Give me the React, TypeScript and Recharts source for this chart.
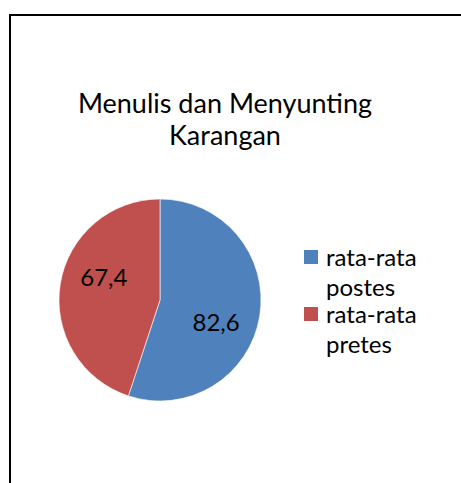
import { PieChart, Pie, Cell, Legend } from 'recharts';

const TITLE_LINES = ['Menulis dan Menyunting', 'Karangan'];
const CATEGORIES = ['rata-rata postes', 'rata-rata pretes'];
const VALUES = [82.6, 67.4];
const VALUE_LABELS = ['82,6', '67,4'];
const COLORS = ['#4F81BD', '#C0504D'];

const FONT = 'Lato, Carlito, Calibri, sans-serif';
const RAD = Math.PI / 180;

const data = CATEGORIES.map((name, i) => ({ name, value: VALUES[i], label: VALUE_LABELS[i] }));

// Excel "best fit" puts the labels a bit clockwise of the slice middle
const renderLabel = (props: any) => {
  const { cx, cy, midAngle, outerRadius, index } = props;
  const r = outerRadius * 0.6;
  const a = (midAngle - 13) * RAD;
  const x = cx + r * Math.cos(a);
  const y = cy - r * Math.sin(a);
  return (
    <text x={x} y={y + 8.6} textAnchor="middle" fill="#000" fontSize={24} fontFamily={FONT}>
      {data[index].label}
    </text>
  );
};

const renderLegend = (props: any) => {
  const { payload } = props;
  return (
    <div style={{ fontFamily: FONT, fontSize: 24, color: '#000' }}>
      {payload.map((entry: any, i: number) => {
        const words = String(entry.value).split(' ');
        return (
          <div key={i} style={{ position: 'relative', paddingLeft: 22, lineHeight: '30px', marginBottom: i === 0 ? -3 : 0 }}>
            <span
              style={{
                position: 'absolute',
                left: 0,
                top: 8,
                width: 14,
                height: 14,
                background: entry.color,
              }}
            />
            <div>{words[0]}</div>
            <div>{words.slice(1).join(' ')}</div>
          </div>
        );
      })}
    </div>
  );
};

export default function App() {
  return (
    <div style={{ position: 'absolute', left: 0, top: 0, width: 461, height: 483, overflow: 'hidden', background: '#fff' }}>
      <div
        style={{
          position: 'absolute',
          left: 9,
          top: 14,
          width: 520,
          height: 520,
          border: '2px solid #000',
          boxSizing: 'border-box',
        }}
      />
      <div
        style={{
          position: 'absolute',
          left: 0,
          width: 450,
          top: 87,
          textAlign: 'center',
          fontFamily: FONT,
          fontSize: 27,
          lineHeight: '32px',
          color: '#000',
        }}
      >
        {TITLE_LINES.map((t) => (
          <div key={t}>{t}</div>
        ))}
      </div>
      <div style={{ position: 'absolute', left: 0, top: 0 }}>
        <PieChart width={461} height={483} margin={{ top: 0, right: 0, bottom: 0, left: 0 }}>
          <Pie
            data={data}
            dataKey="value"
            nameKey="name"
            cx={160}
            cy={300}
            outerRadius={101}
            startAngle={90}
            endAngle={-270}
            stroke="#fff"
            strokeWidth={0.6}
            label={renderLabel}
            labelLine={false}
            isAnimationActive={false}
          >
            {data.map((_, i) => (
              <Cell key={`cell-${i}`} fill={COLORS[i]} />
            ))}
          </Pie>
          <Legend
            layout="vertical"
            content={renderLegend}
            wrapperStyle={{ position: 'absolute', left: 304, top: 242, width: 150 }}
          />
        </PieChart>
      </div>
    </div>
  );
}
